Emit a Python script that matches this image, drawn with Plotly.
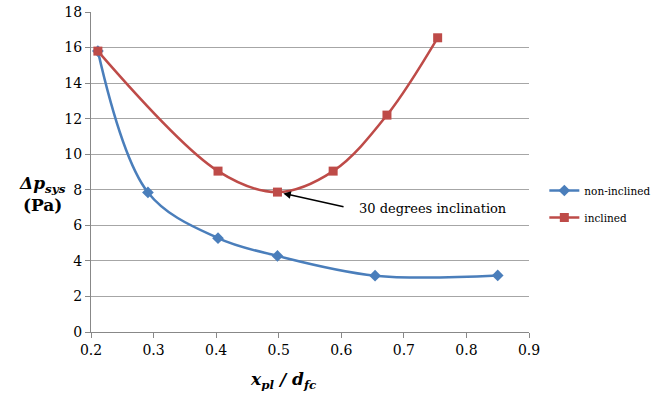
import plotly.graph_objects as go

x_non = [0.211, 0.291, 0.403, 0.498, 0.654, 0.85]
y_non = [15.8, 7.85, 5.28, 4.28, 3.17, 3.18]
x_inc = [0.211, 0.403, 0.498, 0.587, 0.673, 0.754]
y_inc = [15.8, 9.05, 7.87, 9.05, 12.2, 16.55]
x_ticks = [0.2, 0.3, 0.4, 0.5, 0.6, 0.7, 0.8, 0.9]
y_ticks = [0, 2, 4, 6, 8, 10, 12, 14, 16, 18]

font = "DejaVu Serif"
fig = go.Figure()
fig.add_trace(go.Scatter(x=x_non, y=y_non, name="non-inclined", mode="lines+markers",
                         legendgroup="a",
                         line=dict(color="#4a7ebb", width=2.5, shape="spline", smoothing=1.0),
                         marker=dict(symbol="diamond", size=9, color="#4a7ebb")))
fig.add_trace(go.Scatter(x=x_inc, y=y_inc, name="inclined", mode="lines+markers",
                         legendgroup="b",
                         line=dict(color="#be4b48", width=2.5, shape="spline", smoothing=1.0),
                         marker=dict(symbol="square", size=9, color="#be4b48")))

fig.add_annotation(x=x_inc[2], y=y_inc[2], ax=0.606, ay=7.03, axref="x", ayref="y",
                   xref="x", yref="y", text="", showarrow=True, arrowhead=2, arrowsize=1,
                   arrowwidth=1.5, arrowcolor="black", standoff=6)
fig.add_annotation(x=0.6256, y=6.92, xref="x", yref="y", text="30 degrees inclination",
                   showarrow=False, xanchor="left", font=dict(family=font, size=13, color="black"))
fig.add_annotation(x=-0.17, y=0.43, xref="paper", yref="paper",
                   text="<b><i>Δp<sub>sys</sub></i></b><br><b>(Pa)</b>", showarrow=False,
                   align="center", font=dict(family=font, size=17, color="black"))
fig.add_annotation(x=0.44, y=-0.11, xref="paper", yref="paper", yanchor="top",
                   text="<b><i>x<sub>pl</sub> / d<sub>fc</sub></i></b>", showarrow=False,
                   font=dict(family=font, size=17, color="black"))

fig.update_layout(
    width=658, height=405, margin=dict(l=91, r=129, t=12, b=73, autoexpand=False),
    paper_bgcolor="white", plot_bgcolor="white",
    font=dict(family=font, size=13, color="black"),
    legend=dict(x=1.035, y=0.40, xanchor="left", yanchor="middle", font=dict(size=10.5),
                bgcolor="rgba(0,0,0,0)", tracegroupgap=8),
    showlegend=True,
)
fig.update_xaxes(range=[0.2, 0.9], tickvals=x_ticks, ticktext=[f"{v:g}" for v in x_ticks],
                 showgrid=False, showline=True, linecolor="#888", linewidth=1,
                 ticks="outside", ticklen=5, tickcolor="#888", zeroline=False,
                 tickfont=dict(size=14))
fig.update_yaxes(range=[0, 18], tickvals=y_ticks, showgrid=True, gridcolor="#a6a6a6", gridwidth=1,
                 showline=True, linecolor="#888", linewidth=1, ticks="outside", ticklen=5,
                 tickcolor="#888", zeroline=False, tickfont=dict(size=14))
fig.write_html("out.html", config={"displayModeBar": False},
               post_script="document.body.style.margin='0';")
